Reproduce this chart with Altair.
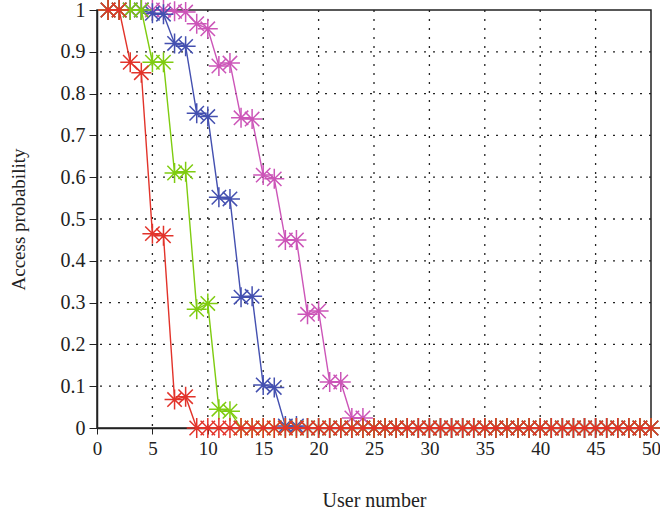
import altair as alt
import pandas as pd

users = list(range(1, 51))

red_vals = [1, 1, 0.875, 0.85, 0.465, 0.46, 0.068, 0.075,
            0, 0, 0, 0, 0, 0, 0, 0, 0, 0, 0, 0, 0, 0, 0, 0, 0, 0, 0, 0, 0, 0,
            0, 0, 0, 0, 0, 0, 0, 0, 0, 0, 0, 0, 0, 0, 0, 0, 0, 0, 0, 0]
green_vals = [1, 1, 1, 1, 0.875, 0.875, 0.61, 0.613, 0.284, 0.298, 0.045, 0.04,
              0, 0, 0, 0, 0, 0, 0, 0, 0, 0, 0, 0, 0, 0, 0, 0, 0, 0,
              0, 0, 0, 0, 0, 0, 0, 0, 0, 0, 0, 0, 0, 0, 0, 0, 0, 0, 0, 0]
blue_vals = [1, 1, 1, 1, 0.992, 0.99, 0.92, 0.913, 0.753, 0.745, 0.552, 0.548,
             0.313, 0.315, 0.103, 0.097, 0.005, 0.005,
             0, 0, 0, 0, 0, 0, 0, 0, 0, 0, 0, 0,
             0, 0, 0, 0, 0, 0, 0, 0, 0, 0, 0, 0, 0, 0, 0, 0, 0, 0, 0, 0]
magenta_vals = [1, 1, 1, 1, 1, 1, 0.997, 0.995, 0.967, 0.955, 0.866, 0.873,
                0.742, 0.739, 0.605, 0.596, 0.45, 0.45, 0.272, 0.28, 0.11, 0.11,
                0.024, 0.024, 0, 0, 0, 0, 0, 0,
                0, 0, 0, 0, 0, 0, 0, 0, 0, 0, 0, 0, 0, 0, 0, 0, 0, 0, 0, 0]

series = [
    ("magenta", magenta_vals, "#cc55b8"),
    ("blue", blue_vals, "#4450b0"),
    ("green", green_vals, "#7fcc10"),
    ("red", red_vals, "#e2332a"),
]

x_ticks = [0, 5, 10, 15, 20, 25, 30, 35, 40, 45, 50]
y_ticks = [0, 0.1, 0.2, 0.3, 0.4, 0.5, 0.6, 0.7, 0.8, 0.9, 1]

star = ("M-1,0L1,0M0,-1L0,1M-0.72,-0.72L0.72,0.72M-0.72,0.72L0.72,-0.72")

FONT = "Liberation Serif"

x_scale = alt.Scale(domain=[0, 50], nice=False, zero=False)
y_scale = alt.Scale(domain=[0, 1], nice=False)

x_axis = alt.Axis(values=x_ticks, title="User number", grid=False, format="d",
                  labelFont=FONT, titleFont=FONT, labelFontSize=19, titleFontSize=20,
                  titleFontWeight="normal", labelColor="#222", titleColor="#222",
                  domainColor="#222", tickColor="#222", tickSize=6, domainWidth=1.5,
                  labelPadding=5, titlePadding=32, labelFlush=False)
y_axis = alt.Axis(values=y_ticks, title="Access probability", grid=False, format=".1~f",
                  labelFont=FONT, titleFont=FONT, labelFontSize=20, titleFontSize=19,
                  titleFontWeight="normal", labelColor="#222", titleColor="#222",
                  domainColor="#222", tickColor="#222", tickSize=8, domainWidth=1.5,
                  labelPadding=4, titlePadding=32, labelFlush=False)

grid_x_df = pd.DataFrame({"x": x_ticks[1:-1]})
grid_y_df = pd.DataFrame({"y": y_ticks[1:-1]})

grid_v = alt.Chart(grid_x_df).mark_rule(color="#222", strokeDash=[2, 7], strokeWidth=1.3).encode(
    x=alt.X("x:Q", scale=x_scale, axis=x_axis)
)
grid_h = alt.Chart(grid_y_df).mark_rule(color="#222", strokeDash=[2, 7], strokeWidth=1.3).encode(
    y=alt.Y("y:Q", scale=y_scale, axis=y_axis)
)

layers = [grid_v, grid_h]
for name, vals, col in series:
    df = pd.DataFrame({"user": users, "prob": vals})
    base = alt.Chart(df).encode(
        x=alt.X("user:Q", scale=x_scale, axis=x_axis),
        y=alt.Y("prob:Q", scale=y_scale, axis=y_axis),
    )
    line = base.mark_line(color=col, strokeWidth=1.4)
    pts = base.mark_point(shape=star, color=col, filled=False, strokeWidth=1.5,
                          size=400, opacity=1)
    layers += [line, pts]

chart = alt.layer(*layers).properties(
    width=554, height=418,
    padding={"left": 97, "top": 10, "right": 9, "bottom": 85},
    autosize="none",
    background="white",
).configure_view(stroke="#222", strokeWidth=1.5)

chart.save("out.html", embed_options={"renderer": "svg", "actions": False})
